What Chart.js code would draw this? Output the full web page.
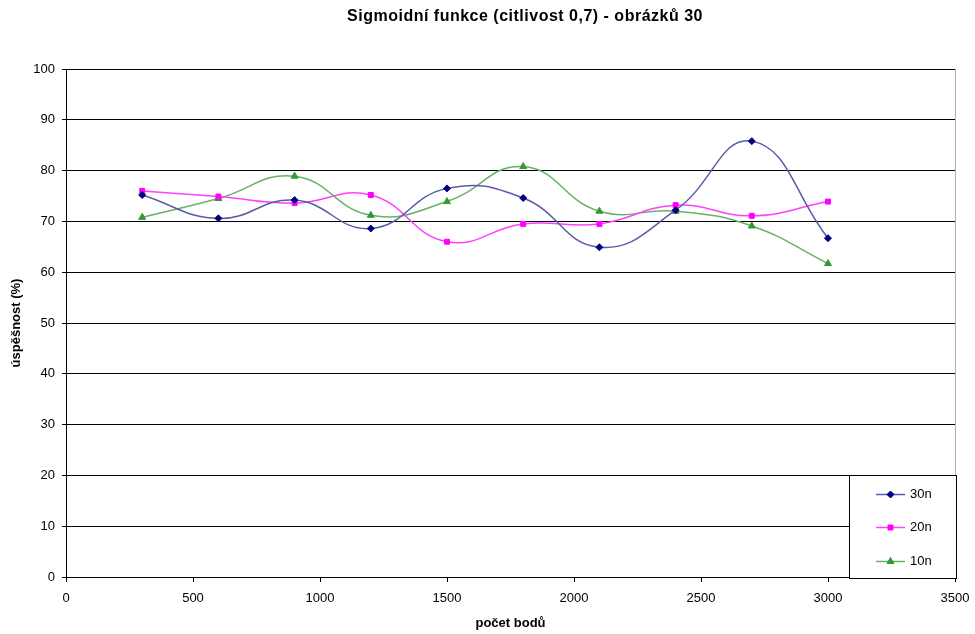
<!DOCTYPE html>
<html>
<head>
<meta charset="utf-8">
<script src="https://cdn.jsdelivr.net/npm/chart.js@4.4.1/dist/chart.umd.min.js"></script>
<style>
html,body{margin:0;padding:0;background:#fff;}
#wrap{width:975px;height:634px;position:relative;}
</style>
</head>
<body>
<div id="wrap"><canvas id="c" width="975" height="634"></canvas></div>
<script>
const chartTitle = "Sigmoidní funkce (citlivost 0,7) - obrázků 30";
const xTitle = "počet bodů";
const yTitle = "úspěšnost (%)";
const xValues = [300, 600, 900, 1200, 1500, 1800, 2100, 2400, 2700, 3000];
const s30n = [75.2, 70.6, 74.2, 68.6, 76.5, 74.6, 64.9, 72.2, 85.8, 66.7];
const s20n = [76.0, 74.9, 73.6, 75.2, 66.0, 69.5, 69.5, 73.2, 71.1, 73.9];
const s10n = [70.8, 74.5, 78.9, 71.2, 73.9, 80.8, 72.0, 72.0, 69.1, 61.7];
const seriesNames = ["30n", "20n", "10n"];

const FONT = "'Liberation Sans', Arial, sans-serif";
const pts = arr => arr.map((v, i) => ({x: xValues[i], y: v}));

const titlePlugin = {
  id: 'fixedTitle',
  afterDraw(chart) {
    const ctx = chart.ctx;
    ctx.save();
    ctx.font = "bold 16px " + FONT;
    if ('letterSpacing' in ctx) ctx.letterSpacing = "0.5px";
    ctx.fillStyle = "#000";
    ctx.textAlign = "center";
    ctx.textBaseline = "middle";
    ctx.fillText(chartTitle, 525, 17);
    ctx.restore();
  }
};

const framePlugin = {
  id: 'frame',
  beforeDatasetsDraw(chart) {
    const {ctx, chartArea: a} = chart;
    ctx.save();
    ctx.strokeStyle = "#b0b0b0";
    ctx.lineWidth = 1;
    ctx.beginPath();
    ctx.moveTo(a.right + 0.5, a.top);
    ctx.lineTo(a.right + 0.5, a.bottom);
    ctx.stroke();
    ctx.restore();
  }
};

const legendPlugin = {
  id: 'boxLegend',
  afterDraw(chart) {
    const ctx = chart.ctx;
    const bx = 849, by = 475, bw = 107, bh = 103;
    ctx.save();
    ctx.fillStyle = "#fff";
    ctx.fillRect(bx, by, bw, bh);
    ctx.strokeStyle = "#000";
    ctx.lineWidth = 1;
    ctx.strokeRect(bx + 0.5, by + 0.5, bw, bh);
    const rows = [494, 527, 561];
    chart.data.datasets.forEach((ds, i) => {
      const y = rows[i] + 0.5;
      ctx.strokeStyle = ds.borderColor;
      ctx.lineWidth = ds.borderWidth;
      ctx.beginPath();
      ctx.moveTo(876, y);
      ctx.lineTo(905, y);
      ctx.stroke();
      ctx.fillStyle = ds.pointBackgroundColor;
      ctx.strokeStyle = ds.pointBorderColor;
      ctx.lineWidth = 1;
      Chart.helpers.drawPoint(ctx, {pointStyle: ds.pointStyle, radius: ds.pointRadius, borderWidth: 1, rotation: 0}, 890.5, y);
      ctx.fillStyle = "#000";
      ctx.font = "13px " + FONT;
      ctx.textAlign = "left";
      ctx.textBaseline = "middle";
      ctx.fillText(ds.label, 910, y);
    });
    ctx.restore();
  }
};

const colors = ["#000080", "#FF00FF", "#339933"];
const lineColors = ["#5a5aa8", "#ff40ff", "#66b366"];
const styles = ["rectRot", "rect", "triangle"];
const radii = [3.5, 3.5, 4];
const data = [s30n, s20n, s10n];

new Chart(document.getElementById('c'), {
  type: 'line',
  data: {
    datasets: data.map((d, i) => ({
      label: seriesNames[i],
      data: pts(d),
      borderColor: lineColors[i],
      borderWidth: 1.5,
      tension: 0.45,
      fill: false,
      pointStyle: styles[i],
      pointRadius: radii[i],
      pointBackgroundColor: colors[i],
      pointBorderColor: colors[i],
      pointBorderWidth: 1
    }))
  },
  options: {
    responsive: false,
    animation: false,
    devicePixelRatio: 1,
    layout: {padding: {top: 69, right: 20, left: 0, bottom: 0}},
    plugins: {
      legend: {display: false},
      title: {display: false},
      tooltip: {enabled: false}
    },
    scales: {
      x: {
        type: 'linear',
        min: 0, max: 3500,
        ticks: {stepSize: 500, color: "#000", font: {family: FONT, size: 13}, padding: 9, maxRotation: 0,
                callback: v => String(v)},
        grid: {drawOnChartArea: false, drawTicks: true, tickLength: 5, color: "#000"},
        border: {color: "#000", width: 1},
        title: {display: true, text: xTitle, color: "#000", font: {family: FONT, size: 13, weight: 'bold'}, padding: {top: 0, bottom: 3}},
        afterFit(s) { s.height = 57; s.paddingRight = 0; s.paddingLeft = 0; }
      },
      y: {
        min: 0, max: 100,
        ticks: {stepSize: 10, color: "#000", font: {family: FONT, size: 13}, padding: 7},
        grid: {color: "#000", lineWidth: 1, drawTicks: true, tickLength: 4},
        border: {color: "#000", width: 1},
        title: {display: true, text: yTitle, color: "#000", font: {family: FONT, size: 13, weight: 'bold'}, padding: {top: 9, bottom: 0}},
        afterFit(s) { s.width = 66; s.paddingTop = 0; s.paddingBottom = 0; }
      }
    }
  },
  plugins: [titlePlugin, framePlugin, legendPlugin]
});
</script>
</body>
</html>
